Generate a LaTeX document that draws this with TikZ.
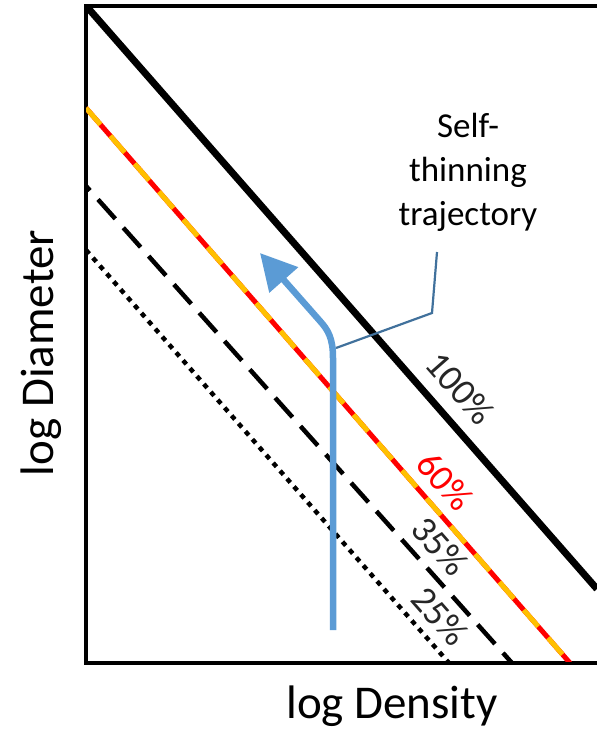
\documentclass[tikz,border=0pt]{standalone}
\usepackage{fontspec}
\setmainfont{Carlito}
\usetikzlibrary{arrows.meta}
\definecolor{trajblue}{HTML}{5B9BD5}
\definecolor{calloutblue}{HTML}{41719C}
\definecolor{softgold}{HTML}{FFC000}
\definecolor{labelgray}{HTML}{262626}

\begin{document}
\begin{tikzpicture}[x=1pt, y=-1pt,
  axisline/.style={line width=4pt},
  fullline/.style={line width=7pt},
  sixtyline/.style={line width=5pt, red},
  sixtydash/.style={line width=5pt, softgold, dash pattern=on 22pt off 15pt},
  thirtyfive/.style={line width=4.5pt, dash pattern=on 26pt off 12pt, dash phase=20pt},
  twentyfive/.style={line width=4.5pt, dash pattern=on 5pt off 5.5pt},
  pct/.style={font=\fontsize{37}{44}\selectfont, text=labelgray, rotate=-48.7, inner sep=0pt},
  axislabel/.style={font=\fontsize{47}{56}\selectfont, inner sep=0pt},
  traj/.style={line width=6.5pt, trajblue, -{Triangle[length=36pt, width=37pt]}},
  callout/.style={line width=2.2pt, calloutblue}
]
  \useasboundingbox (0,0) rectangle (597,729);

  % axes
  \coordinate (topleft) at (86,6);
  \coordinate (topright) at (597,6);
  \coordinate (origin) at (86,663);
  \coordinate (xend) at (597,663);
  \draw[axisline] (topright) -- (topleft) -- (origin) -- (xend);

  % stocking lines
  \coordinate (full-a) at (88,8);
  \coordinate (full-b) at (597,589);
  \coordinate (sixty-a) at (86,108);
  \coordinate (sixty-b) at (570,663);
  \coordinate (tf-a) at (86,186);
  \coordinate (tf-b) at (512,663);
  \coordinate (tw-a) at (86,250);
  \coordinate (tw-b) at (449,663);
  \begin{scope}
    \clip (86,6) rectangle (597,661);
    \draw[fullline] (full-a) -- (full-b);
    \draw[sixtyline] (sixty-a) -- (sixty-b);
    \draw[sixtydash] (sixty-a) -- (sixty-b);
    \draw[thirtyfive] (tf-a) -- (tf-b);
    \draw[twentyfive] (tw-a) -- (tw-b);
  \end{scope}

  \node[pct] (lab100) at (460,388) {100\%};
  \node[pct, text=red] (lab60) at (445,481) {60\%};
  \node[pct] (lab35) at (440,546) {35\%};
  \node[pct] (lab25) at (440,616) {25\%};

  % trajectory
  \coordinate (traj-start) at (333,630);
  \coordinate (traj-bend) at (333,358);
  \coordinate (traj-knee) at (320,321);
  \coordinate (traj-tip) at (260,253);
  \draw[traj] (traj-start) -- (traj-bend)
    .. controls (333,338) and (328,330) .. (traj-knee) -- (traj-tip);

  \node[align=center, font=\fontsize{35}{44}\selectfont, inner sep=0pt] (note) at (468,172)
    {Self-\\thinning\\trajectory};
  \coordinate (note-foot) at (437,252);
  \coordinate (note-elbow) at (432,313);
  \coordinate (note-end) at (336,348);
  \draw[callout] (note-foot) -- (note-elbow) -- (note-end);

  % axis titles
  \node[axislabel, anchor=base] (xlab) at (392,718) {log Density};
  \node[axislabel, anchor=base, rotate=90] (ylab) at (53,353) {log Diameter};
\end{tikzpicture}
\end{document}
